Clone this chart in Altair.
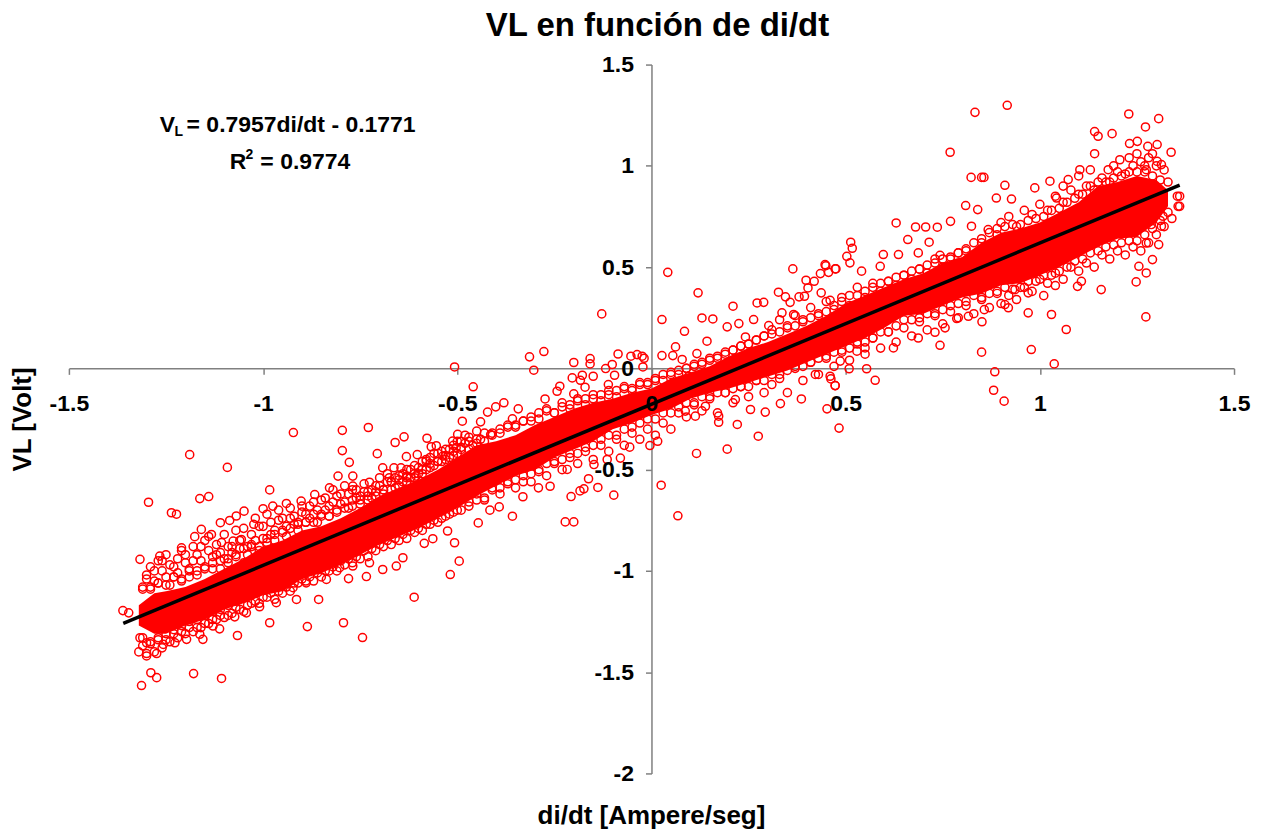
import altair as alt
import pandas as pd

# Values in hundredths (volts / ampere per second).
outliers = [(-92.2,-31.7),(-79.6,-30.6),(-72.9,-29.2),(-118.9,-42.6),(-109.2,-48.9),(-79.6,-40.6),(-77.8,-46.4),(-70.6,-42.1),(-66,-36.6),(-63.7,-33.8),(-57.8,-34.5),(-55.4,-38.2),(-56.7,-38.7),(-63.1,-43.6),(-60.3,-42.6),(-58,-45.9),(-98.3,-60),(-129.5,-66.1),(-116.3,-64.3),(-114,-63.3),(-123.6,-71.3),(-122.3,-72),(-136.1,-119.6),(-134.6,-120.7),(-91.4,-114.1),(-85.7,-114.1),(-61.1,-113),(-51.8,-101.8),(-98.3,-125.6),(-88.6,-127.5),(-79.3,-125.6),(-74.4,-132.9),(-106.6,-131.9),(-107.3,-122.7),(-131.3,-156.6),(-128.9,-150.3),(-127.4,-152.7),(-117.9,-150.7),(-110.7,-153.1),(-130,-140.8),(-127.4,-140.8),(-78,-103.8),(-73.4,-102.8)]
edge_left = [(-131.7,-94.3),(-126.6,-92.7),(-121,-88.6),(-115.9,-79.5),(-117.6,-83.1),(-113.3,-82),(-110.7,-86),(-107.7,-85.3),(-105.6,-84.5),(-111,-76.2),(-108.6,-75.1),(-106.9,-72.9),(-104.9,-70.5),(-102.4,-77),(-100,-69.3),(-97.5,-68),(-94,-66.7),(-90.2,-65.5),(-86.7,-62.3),(-82.9,-59),(-80.7,-53.2),(-76.9,-53.2),(-76.9,-58.1),(-72.6,-56.2),(-67.5,-54),(-66.3,-49.1),(-69.2,-49.1),(-64.5,-49.1),(-63,-53.2),(-60.6,-53.2),(-53.7,-43.3),(-50.3,-39.2),(-51.2,-35.9),(-49.9,-32.6),
 (-131.7,-133),(-130,-135.5),(-125.7,-136.3),(-122.7,-135.5),(-119.7,-133.8),(-115.5,-133.8),(-116.3,-131.3),(-111.2,-128.6),(-112.9,-127.2),(-104.3,-120.7),(-100.9,-117.7),(-96.6,-115.7),(-92.3,-108.3),(-88.9,-105.9),(-83.7,-104.2),(-80.3,-98.4),(-76.9,-97.6),(-72.6,-96),(-69.2,-99.3),(-65.7,-97.6),(-64,-93.5),(-58.5,-86.4),(-56.3,-84.1),(-52.5,-80.3),(-50.7,-86.1),(-49.5,-95.2)]
edge_mid = [(4.2,47.4),(12,37.3),(-12.8,26.9),(2.7,24.1),(8.5,18.3),(13,24.9),(15.8,24.4),(21,30.7),(27.2,32.3),(28.9,32.6),(26.3,24.1),(19.5,20.5),(22.5,22.1),(6.2,10.6),(2.7,6.3),(5.5,6.3),(-27.7,8.3),(-31.4,5.7),(-30.3,-0.9),(-50.7,0.7),(-20,2.9),(-15.8,4.8),(-15.8,2.2),(-8.6,7.1),(-5.3,6),(-3.7,6.8),(-2.4,6),(-1.9,5),(-11.8,-0.1),(-10.1,1.9),(-2.2,0.7),(-20.4,-4.7),(-17.8,-3.4),(-15,-3.9),(-18.3,-5.9),(-9.5,-3.4),(-17.1,-9.3),(-23.6,-8.8),(-24.3,-11.3),(-20,-12.6),(-27.4,-15.1),(-45.9,-9.1),(-38,-17),(-34.3,-20),(-40.1,-19),(-42.2,-21.6),(-48.7,-26.1),(-44,-26.4),(-35.8,-24.9),(-41.4,-32.7),(-11.1,-8),
 (2.5,-57.7),(6.8,-72.8),(11.6,-42),(19.5,-39.9),(27.5,-33.5),(22.1,-27.7),(-0.4,-38.1),(1.6,-36),(-5.6,-38.9),(-9.7,-62.6),(-13.8,-58.8),(-16.2,-54.5),(-17.4,-59.5),(-18.4,-60.5),(-20.7,-63.3),(-22.2,-75.8),(-20,-75.8),(-8,-44.3),(-14.8,-47.5),(-11.4,-45),(-33.1,-63.4),(-35.8,-73),(-39.2,-68.4),(-41.6,-70),(-44.6,-76.3),(-29.1,-59),(-26.1,-58.2),(-21.7,-49.9),(17.3,-26.6),(45.2,-20),(48.3,-29.5),(25.5,-20.3),(29.3,-21.6),(38.6,-15.1),(47.3,-8.5),(33.2,-17.4),(46,-3.9),(42.2,-3),
 (36.4,49.1),(32.7,37.6),(34.5,35.3),(35.7,32.6),(38,35.3),(39.4,35.6),(40.3,39.7),(39.8,43.5),(41.9,43),(44.9,50.7),(47.3,49.1),(43.5,46.8),(45.6,47.4),(43.7,37.3),(46,33.6),(36.6,26.6),(33.6,27.4),(30.2,21.1),(24.2,15.5),(14.3,13.4),(11.7,7.3),(7.9,4.4),(9.6,-3.9),(8.7,-21.1),(11.3,-23.6),(13.9,-18.7),(17.3,-23.6),(21.6,-15.4)]
edge_right = [(91.6,129.9),(83.3,126.4),(76.9,106.7),(122.9,125.6),(130.6,123.3),(127.2,119.2),(114.1,116.9),(115,114.6),(118.6,115.9),(133.8,106.7),(130.2,110.5),(125.1,112.1),(123.1,111),(114.1,106),(82.3,94.3),(85,94.3),(85.6,94.3),(91,90.4),(80.9,80.4),(84,78.4),(88.8,84.1),(92.7,83.6),(98.7,89.1),(102.6,92.4),(104.3,84.1),(63,71.8),(68,69.8),(70.6,69.8),(73.6,69.7),(77,72.6),(66,63.6),(71.5,62.3),(51.3,62.3),(51.7,59.3),(50.3,55.3),(51.1,52.1),(44.7,51.2),(47.5,49.1),(59.7,56.2),(63.6,56.2),(68.7,57),(74.3,55.8),(58.9,50.4),(54.1,48),(79,57),(82.4,70.2),(86.7,68.5),
 (127.3,25.4),(115.8,38.9),(124.8,42.7),(127.4,47.1),(125.5,50.4),(129,53.7),(130.6,61.1),(106.8,19.2),(103.7,2.2),(97.8,9.3),(103,26.6),(97,27.4),(101,35.9),(104,40.9),(109.7,40.5),(110.7,43),(85,8),(88.4,-1.7),(88.1,-10.8),(90.8,-16.2),(74.3,11.4),(57.6,-5.9),(55.4,-0.2),(50.9,-0.2),(47.3,-8.5),(46.2,-5.2),(62.3,10.1),(55,10.1),(52.9,8.5),(48.6,3.6),(68.7,15),(73,17.8),(75.6,20),(85.1,23),(78.6,24.6),(81.6,25.7),(91,31.5),(91.9,29.9),(85.7,29),(97,37.3),(93.6,38.9),(135.6,80),(135.4,85),(131.7,75.1),(131.3,70.2),(128.7,71),(127.4,61.9),(130.2,102.2),(131.3,100.6),(127.8,109.6),(127.4,98.1),(120.6,103),(117.6,98.1),(110.3,98.1),(107.3,93.2)]
scatter_left_up = [(-130,-102),(-129,-98),(-128,-105),(-127,-95),(-126,-100),(-125,-92),(-124,-97),(-123,-103),(-122,-94),(-121,-90),(-120,-96),(-119,-99),(-118,-88),(-117,-92),(-116,-95),(-115,-85),(-114,-90),(-113,-93),(-112,-87),(-111,-91),(-110,-82),(-109,-88),(-108,-91),(-107,-80),(-106,-85),(-105,-79),(-104,-88),(-103,-82),(-102,-74),(-101,-78),(-100,-84),(-99,-72),(-98,-76),(-97,-80),(-96,-70),(-95,-74),(-94,-78),(-93,-69),(-92,-73),(-91,-76),(-90,-68),(-89,-72),(-88,-74),(-87,-66),(-86,-70),(-85,-72),(-84,-64),(-83,-68),(-82,-60),(-81,-63),(-80,-67),(-79,-58),(-78,-62),(-77,-65),(-76,-60),(-75,-63),(-74,-57),(-73,-61),(-72,-64),(-71,-58),(-70,-54),(-69,-60),(-68,-52),(-67,-56),(-66,-59),(-65,-53),(-64,-56),(-63,-50),(-62,-54),(-61,-48),(-60,-52),(-59,-46),(-58,-50),(-57,-44),(-56,-48),(-55,-42),(-54,-46),(-53,-40),(-52,-44),(-51,-38),(-50,-42),(-49,-36),(-48,-33),
 (-131,-108),(-130,-104),(-129,-109),(-128,-100),(-127,-106),(-126,-95),(-125,-103),(-124,-107),(-123,-98),(-122,-101),(-121,-105),(-120,-92),(-119,-103),(-118,-95),(-117,-100),(-116,-88),(-115,-98),(-114,-83),(-113,-96),(-112,-92),(-111,-99),(-110,-94),(-109,-96),(-108,-88),(-107,-92),(-106,-89),(-105,-96),(-104,-92),(-103,-88),(-102,-85),(-101,-90),(-100,-78),(-99,-86),(-98,-82),(-97,-85),(-96,-75),(-95,-80),(-94,-83),(-93,-74),(-92,-77),(-91,-80),(-90,-71),(-89,-76),(-88,-68),(-87,-72),(-86,-76),(-85,-65),(-84,-70),(-83,-73),(-82,-66),(-81,-70),(-80,-62),(-79,-66),(-78,-69),(-77,-60),(-76,-64),(-75,-67),(-74,-61),(-73,-65),(-72,-60),(-71,-63),(-70,-58),(-69,-62),(-68,-56),(-67,-60),(-66,-54),(-65,-58),(-64,-52),(-63,-56),(-62,-50),(-61,-54),(-60,-49),(-59,-52),(-58,-45),(-57,-49),(-56,-42),(-55,-46),(-54,-41),(-53,-45),(-52,-40),(-51,-43),(-50,-36),(-49,-40),(-48,-37),(-47,-34),(-46,-38),(-45,-31),(-44,-35)]
scatter_left_down = [(-132,-140),(-131,-137),(-130,-142),(-129,-136),(-128,-140),(-127,-134),(-126,-138),(-125,-131),(-124,-135),(-123,-129),(-122,-133),(-121,-127),(-120,-131),(-119,-125),(-118,-130),(-117,-124),(-116,-128),(-115,-122),(-114,-126),(-113,-120),(-112,-124),(-111,-119),(-110,-123),(-109,-117),(-108,-121),(-107,-115),(-106,-119),(-105,-113),(-104,-117),(-103,-111),(-102,-115),(-101,-109),(-100,-113),(-99,-107),(-98,-111),(-97,-105),(-96,-110),(-95,-104),(-94,-108),(-93,-102),(-92,-106),(-91,-100),(-90,-104),(-89,-99),(-88,-103),(-87,-97),(-86,-101),(-85,-95),(-84,-100),(-83,-94),(-82,-98),(-81,-92),(-80,-95),(-79,-90),(-78,-94),(-77,-88),(-76,-93),(-75,-86),(-74,-90),(-73,-85),(-72,-89),(-71,-83),(-70,-87),(-69,-81),(-68,-85),(-67,-80),(-66,-84),(-65,-78),(-64,-82),(-63,-76),(-62,-80),(-61,-75),(-60,-79),(-59,-73),(-58,-77),(-57,-71),(-56,-75),(-55,-70),(-54,-74),(-53,-68),(-52,-72),(-51,-66),(-50,-70)]
scatter_mid_up = [(-47,-40),(-45,-37),(-43,-36),(-41,-33),(-39,-32),(-37,-29),(-35,-28),(-33,-26),(-31,-24),(-29,-22),(-27,-20),(-25,-22),(-23,-17),(-21,-20),(-19,-15),(-17,-18),(-15,-13),(-13,-16),(-11,-11),(-9,-14),(-7,-9),(-5,-11),(-3,-7),(-1,-8),(1,-5),(3,-6),(5,-2),(7,-3),(9,0),(11,2),(13,3),(15,5),(17,6),(19,7),(21,9),(23,11),(25,12),(27,14),(29,16)]
scatter_mid_down = [(-47,-66),(-45,-62),(-43,-65),(-41,-59),(-39,-62),(-37,-56),(-35,-59),(-33,-53),(-31,-56),(-29,-50),(-27,-53),(-25,-47),(-23,-50),(-21,-44),(-19,-47),(-17,-41),(-15,-45),(-13,-38),(-11,-41),(-9,-35),(-7,-38),(-5,-32),(-3,-35),(-1,-30),(1,-33),(3,-27),(5,-30),(7,-22),(9,-24),(11,-18),(13,-21),(15,-15),(17,-22),(19,-12),(21,-17),(23,-9),(25,-14),(27,-6),(29,-12)]
scatter_right_up = [(31,19),(33,24),(35,21),(37,26),(39,24),(41,30),(43,26),(45,33),(47,29),(49,35),(51,31),(53,40),(55,35),(57,42),(59,38),(61,43),(63,41),(65,46),(67,44),(69,49),(71,47),(73,52),(75,50),(77,54),(79,52),(81,58),(83,56),(85,62),(87,60),(89,66),(90,72),(92,75),(94,70),(96,78),(98,76),(100,81),(102,78),(104,85),(106,82),(108,88),(110,86),(112,90),(114,88),(116,94),(118,92),(120,97),(122,96),(124,100),(126,102),(128,104),(130,100),(132,98),(119,100),(123,104),(127,100),(125,106),(129,106),(110,95),(113,98),(106,90)]
scatter_right_down = [(31,-8),(33,-5),(35,-12),(37,0),(39,-6),(41,3),(43,-3),(45,6),(47,1),(49,8),(51,4),(53,12),(55,7),(57,15),(59,10),(61,18),(63,13),(65,20),(67,16),(69,23),(71,19),(73,26),(75,22),(77,28),(79,25),(81,31),(83,27),(85,34),(87,30),(89,37),(90,32),(92,36),(94,34),(96,40),(98,38),(100,44),(102,42),(104,47),(106,44),(108,50),(110,48),(112,52),(114,50),(116,56),(118,54),(120,58),(122,56),(124,60),(126,58),(128,62),(130,66),(132,70),(134,74),(136,80),(136,85)]
rim_up = [(-131,-109),(-129,-108),(-127,-106),(-125,-107),(-123,-103),(-121,-104),(-119,-100),(-117,-102),(-115,-99),(-113,-99),(-111,-95),(-109,-94),(-107,-93),(-105,-89),(-103,-87),(-101,-88),(-99,-84),(-97,-82),(-95,-81),(-93,-79),(-91,-77),(-89,-76),(-87,-76),(-85,-73),(-83,-73),(-81,-71),(-79,-69),(-77,-68),(-75,-65),(-73,-63),(-71,-61),(-69,-60),(-67,-56),(-65,-55),(-63,-54),(-61,-52),(-59,-50),(-57,-47),(-55,-46),(-53,-43),(-51,-41),(-49,-39),(-47,-36),(-45,-35),(-43,-32),(-41,-32),(-39,-30),(-37,-28),(-35,-29),(-33,-26),(-31,-26),(-29,-25),(-27,-21),(-25,-22),(-23,-19),(-21,-18),(-19,-16),(-17,-15),(-15,-15),(-13,-13),(-11,-13),(-9,-11),(-7,-10),(-5,-10),(-3,-8),(-1,-7),(1,-6),(3,-3),(5,-3),(7,-1),(9,0),(11,1),(13,2),(15,4),(17,5),(19,8),(21,9),(23,11),(25,12),(27,14),(29,16),(31,17),(33,18),(35,20),(37,21),(39,23),(41,25),(43,27),(45,28),(47,31),(49,33),(51,36),(53,36),(55,38),(57,40),(59,42),(61,43),(63,45),(65,46),(67,48),(69,49),(71,51),(73,54),(75,54),(77,55),(79,57),(81,59),(83,62),(85,64),(87,67),(89,69),(91,70),(93,71),(95,71),(97,73),(99,74),(101,75),(103,78),(105,79),(107,82),(109,84),(111,86),(113,90),(115,92),(117,92),(119,94),(121,95),(123,97),(125,97),(127,97),(129,95),(131,93),(133,92)]
rim_down = [(-131,-133),(-129,-135),(-127,-133),(-125,-134),(-123,-131),(-121,-130),(-119,-128),(-117,-128),(-115,-126),(-113,-124),(-111,-122),(-109,-122),(-107,-118),(-105,-120),(-103,-116),(-101,-116),(-99,-113),(-97,-114),(-95,-111),(-93,-110),(-91,-106),(-89,-105),(-87,-105),(-85,-103),(-83,-100),(-81,-100),(-79,-97),(-77,-96),(-75,-94),(-73,-93),(-71,-90),(-69,-88),(-67,-87),(-65,-85),(-63,-84),(-61,-81),(-59,-80),(-57,-77),(-55,-76),(-53,-73),(-51,-71),(-49,-70),(-47,-68),(-45,-65),(-43,-64),(-41,-60),(-39,-59),(-37,-57),(-35,-55),(-33,-56),(-31,-52),(-29,-51),(-27,-47),(-25,-46),(-23,-45),(-21,-42),(-19,-42),(-17,-39),(-15,-38),(-13,-35),(-11,-33),(-9,-33),(-7,-30),(-5,-29),(-3,-27),(-1,-25),(1,-25),(3,-22),(5,-22),(7,-19),(9,-17),(11,-17),(13,-14),(15,-14),(17,-12),(19,-12),(21,-10),(23,-9),(25,-9),(27,-6),(29,-6),(31,-3),(33,-3),(35,-1),(37,1),(39,1),(41,3),(43,5),(45,5),(47,8),(49,9),(51,10),(53,13),(55,13),(57,15),(59,18),(61,18),(63,21),(65,24),(67,24),(69,25),(71,27),(73,27),(75,29),(77,31),(79,32),(81,33),(83,36),(85,35),(87,37),(89,38),(91,40),(93,39),(95,40),(97,43),(99,43),(101,46),(103,46),(105,48),(107,50),(109,53),(111,54),(113,57),(115,58),(117,60),(119,61),(121,62),(123,63),(125,63),(127,66),(129,69),(131,73),(133,77)]

# Outline of the solid mass of overlapping markers around the fit.
mass_x  = [-132,-128,-125,-120,-115,-110,-105,-100,-95,-90,-85,-80,-75,-70,-65,-60,-55,-50,-45,-40,-35,-30,-25,-20,-15,-10,-5,0,5,10,15,20,25,30,35,40,45,50,55,60,65,70,75,80,85,90,95,100,105,110,115,120,125,130,133]
mass_lo = [-127,-131,-131,-127,-124,-119,-116,-112,-110,-104,-101,-97,-92,-87,-83,-79,-74,-69,-63,-58,-53,-50,-44,-40,-36,-30,-27,-23,-20,-15,-12,-10,-7,-4,-1,3,7,11,15,20,26,27,31,35,37,41,42,46,50,55,60,64,65,72,80]
mass_up = [-117,-111,-110,-108,-104,-99,-94,-88,-85,-80,-78,-74,-69,-63,-59,-55,-50,-44,-38,-36,-33,-28,-24,-20,-17,-15,-12,-10,-5,-2,1,6,10,13,17,21,26,32,36,40,44,47,52,55,62,67,69,72,77,82,90,92,95,93,88]

line_x = [-1.36, 1.36]
line_y = [-1.259, 0.905]

x_ticks = [-1.5, -1, -0.5, 0, 0.5, 1, 1.5]
y_ticks = [-2, -1.5, -1, -0.5, 0, 0.5, 1, 1.5]

notes = [("V", -1.266, 1.203, 23), ("L", -1.228, 1.167, 14), ("= 0.7957di/dt - 0.1771", -1.197, 1.203, 23),
         ("R", -1.086, 1.021, 23), ("2", -1.045, 1.053, 14), ("= 0.9774", -1.007, 1.021, 23)]

FONT = "Liberation Sans"
xs = alt.Scale(domain=[-1.5, 1.5], nice=False, zero=False)
ys = alt.Scale(domain=[-2, 1.5], nice=False, zero=False)
W, H = 1167, 710
LABEL = "'' + datum.value"
GRAY = "#808080"

open_pts = outliers + edge_left + edge_mid + edge_right + scatter_left_up + scatter_left_down + scatter_mid_up + scatter_mid_down + scatter_right_up + scatter_right_down + rim_up + rim_down
df_open = pd.DataFrame(open_pts, columns=["x", "y"]) / 100
df_mass = pd.DataFrame({"x": mass_x, "lo": mass_lo, "up": mass_up}) / 100
df_line = pd.DataFrame({"x": line_x, "y": line_y})
df_notes = pd.DataFrame(notes, columns=["t", "x", "y", "s"])

x_axis_base = alt.Axis(values=x_ticks, orient="bottom", labels=False, grid=False, domainColor=GRAY, tickColor=GRAY,
                       tickSize=6, domainWidth=1.5, tickWidth=1.5, offset=-(H * 2 / 3.5), zindex=0,
                       title="di/dt [Ampere/seg]", titleFont=FONT, titleFontSize=26, titleFontWeight="bold",
                       titleColor="#000000", titleX=583, titleY=448, titleBaseline="middle", titleAlign="center")
y_axis_base = alt.Axis(values=y_ticks, orient="left", labels=False, grid=False, domainColor=GRAY, tickColor=GRAY,
                       tickSize=6, domainWidth=1.5, tickWidth=1.5, offset=-(W / 2), zindex=0,
                       title="VL [Volt]", titleFont=FONT, titleFontSize=26, titleFontWeight="bold",
                       titleColor="#000000", titleX=-630, titleY=355, titleBaseline="middle", titleAlign="center", titleAngle=270)
x_axis_top = alt.Axis(values=x_ticks, orient="bottom", labelExpr=LABEL, domain=False, ticks=False, grid=False, title=None,
                      offset=-(H * 2 / 3.5), zindex=1, labelFont=FONT, labelFontSize=23, labelFontWeight="bold",
                      labelColor="#000000", labelPadding=24, labelFlush=False, labelOverlap=False)
y_axis_top = alt.Axis(values=y_ticks, orient="left", labelExpr=LABEL, domain=False, ticks=False, grid=False, title=None,
                      offset=-(W / 2), zindex=1, labelFont=FONT, labelFontSize=23, labelFontWeight="bold",
                      labelColor="#000000", labelPadding=18, labelOverlap=False)

open_layer = alt.Chart(df_open).mark_point(shape="circle", filled=False, color="#FF0000", size=66, strokeWidth=1.5, opacity=1).encode(
    x=alt.X("x:Q", scale=xs, axis=x_axis_base), y=alt.Y("y:Q", scale=ys, axis=y_axis_base))
mass_layer = alt.Chart(df_mass).mark_area(color="#FF0000", opacity=1, interpolate="linear").encode(
    x=alt.X("x:Q", scale=xs, axis=None), y=alt.Y("lo:Q", scale=ys, axis=None), y2="up:Q")
line_layer = alt.Chart(df_line).mark_line(color="#000000", strokeWidth=3.5).encode(
    x=alt.X("x:Q", scale=xs, axis=x_axis_top), y=alt.Y("y:Q", scale=ys, axis=y_axis_top))
note_layer = alt.Chart(df_notes).mark_text(font=FONT, fontWeight="bold", align="left", baseline="middle", color="#000000").encode(
    x=alt.X("x:Q", scale=xs, axis=None), y=alt.Y("y:Q", scale=ys, axis=None),
    text="t:N", size=alt.Size("s:Q", scale=None, legend=None))

chart = (alt.layer(open_layer, mass_layer, line_layer, note_layer)
         .resolve_axis(x="independent", y="independent")
         .properties(width=W, height=H,
                     padding={"left": 61, "top": 56, "right": 20, "bottom": 55},
                     autosize=alt.AutoSizeParams(type="none"),
                     background="#FFFFFF",
                     title=alt.TitleParams("VL en función de di/dt", font=FONT, fontSize=33, fontWeight="bold",
                                           color="#000000", anchor="middle", dx=6, offset=11))
         .configure_view(stroke=None))
chart.save("out.html", embed_options={"renderer": "svg", "actions": False})
